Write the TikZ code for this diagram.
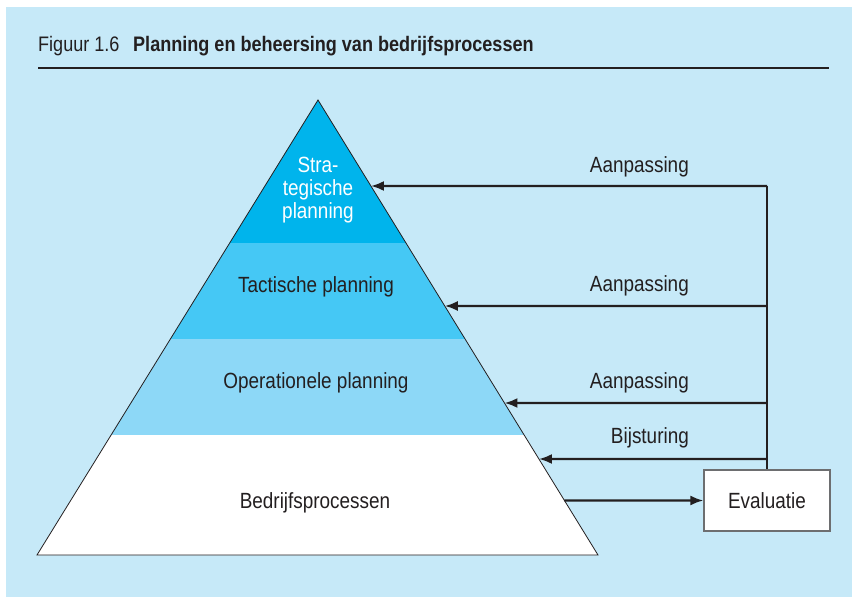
\documentclass[tikz,border=0pt]{standalone}
\usepackage{fontspec}
\setmainfont[FakeStretch=0.86]{Liberation Sans}
\usetikzlibrary{arrows.meta,calc}

\definecolor{panelblue}{HTML}{C6E9F8}
\definecolor{stratblue}{HTML}{00B4EC}
\definecolor{tactblue}{HTML}{45C8F5}
\definecolor{operblue}{HTML}{8DD8F7}
\definecolor{inkgray}{HTML}{231F20}
\definecolor{boxgray}{HTML}{6D6E70}

\tikzset{
  lbl/.style={font=\fontsize{22}{23}\selectfont, text=inkgray, inner sep=0pt},
  feedback/.style={line width=2.3pt, draw=inkgray, -{Latex[length=13pt,width=10pt]}},
  evalbox/.style={draw=boxgray, line width=1.2pt, fill=white, minimum width=126pt, minimum height=61pt, inner sep=0pt}
}

\begin{document}
\begin{tikzpicture}[x=1pt, y=-1pt]
    % page and background panel
    \useasboundingbox (0,0) rectangle (852,597);
    \fill[panelblue] (6,7) rectangle (852,597);

    % caption
    \node[lbl, font=\fontsize{21}{24}\selectfont, anchor=base west] (fignum) at (38,51) {Figuur 1.6};
    \node[lbl, font=\fontsize{21}{24}\selectfont\bfseries, anchor=base west] (figtitle) at (133,51) {Planning en beheersing van bedrijfsprocessen};
    \draw[inkgray, line width=2pt] (38,67.5) -- (829,67.5);

    % pyramid corners
    \coordinate (apex) at (318,100);
    \coordinate (baseL) at (37,555);
    \coordinate (baseR) at (598,555);

    % coloured layers
    \begin{scope}
        \clip (apex) -- (baseL) -- (baseR) -- cycle;
        \fill[stratblue] (0,90) rectangle (852,243);
        \fill[tactblue] (0,243) rectangle (852,339);
        \fill[operblue] (0,339) rectangle (852,435);
        \fill[white] (0,435) rectangle (852,560);
    \end{scope}
    \draw[inkgray, line width=0.8pt, line join=miter] (apex) -- (baseL) -- (baseR) -- cycle;

    % layer labels
    \node[lbl, text=white, align=center, anchor=base] (strat) at (318,218) {Stra-\\tegische\\planning};
    \node[lbl, anchor=base] (tact) at (316,292) {Tactische planning};
    \node[lbl, anchor=base] (oper) at (316,388) {Operationele planning};
    \node[lbl, anchor=base] (proc) at (315,508) {Bedrijfsprocessen};

    % evaluation box
    \node[evalbox] (eval) at (767,500.5) {};
    \node[lbl, anchor=base] (evaltxt) at (767,508) {Evaluatie};

    % points on the feedback spine
    \coordinate (s1) at (767,186);
    \coordinate (s2) at (767,306);
    \coordinate (s3) at (767,403);
    \coordinate (s4) at (767,459);

    % matching points on the right flank
    \coordinate (e1) at ($(apex)!{86/455}!(baseR)$);
    \coordinate (e2) at ($(apex)!{206/455}!(baseR)$);
    \coordinate (e3) at ($(apex)!{303/455}!(baseR)$);
    \coordinate (e4) at ($(apex)!{359/455}!(baseR)$);
    \coordinate (e5) at ($(apex)!{400.5/455}!(baseR)$);

    % feedback loop
    \draw[inkgray, line width=2.3pt] (s1) -- (eval.north);
    \draw[feedback] (s1) -- (e1);
    \draw[feedback] (s2) -- (e2);
    \draw[feedback] (s3) -- (e3);
    \draw[feedback] (s4) -- (e4);
    \draw[feedback] (e5) -- (eval.west);

    % arrow labels
    \node[lbl, anchor=base east] (adj1) at (689,172) {Aanpassing};
    \node[lbl, anchor=base east] (adj2) at (689,291) {Aanpassing};
    \node[lbl, anchor=base east] (adj3) at (689,388) {Aanpassing};
    \node[lbl, anchor=base east] (steer) at (689,443) {Bijsturing};
\end{tikzpicture}
\end{document}
